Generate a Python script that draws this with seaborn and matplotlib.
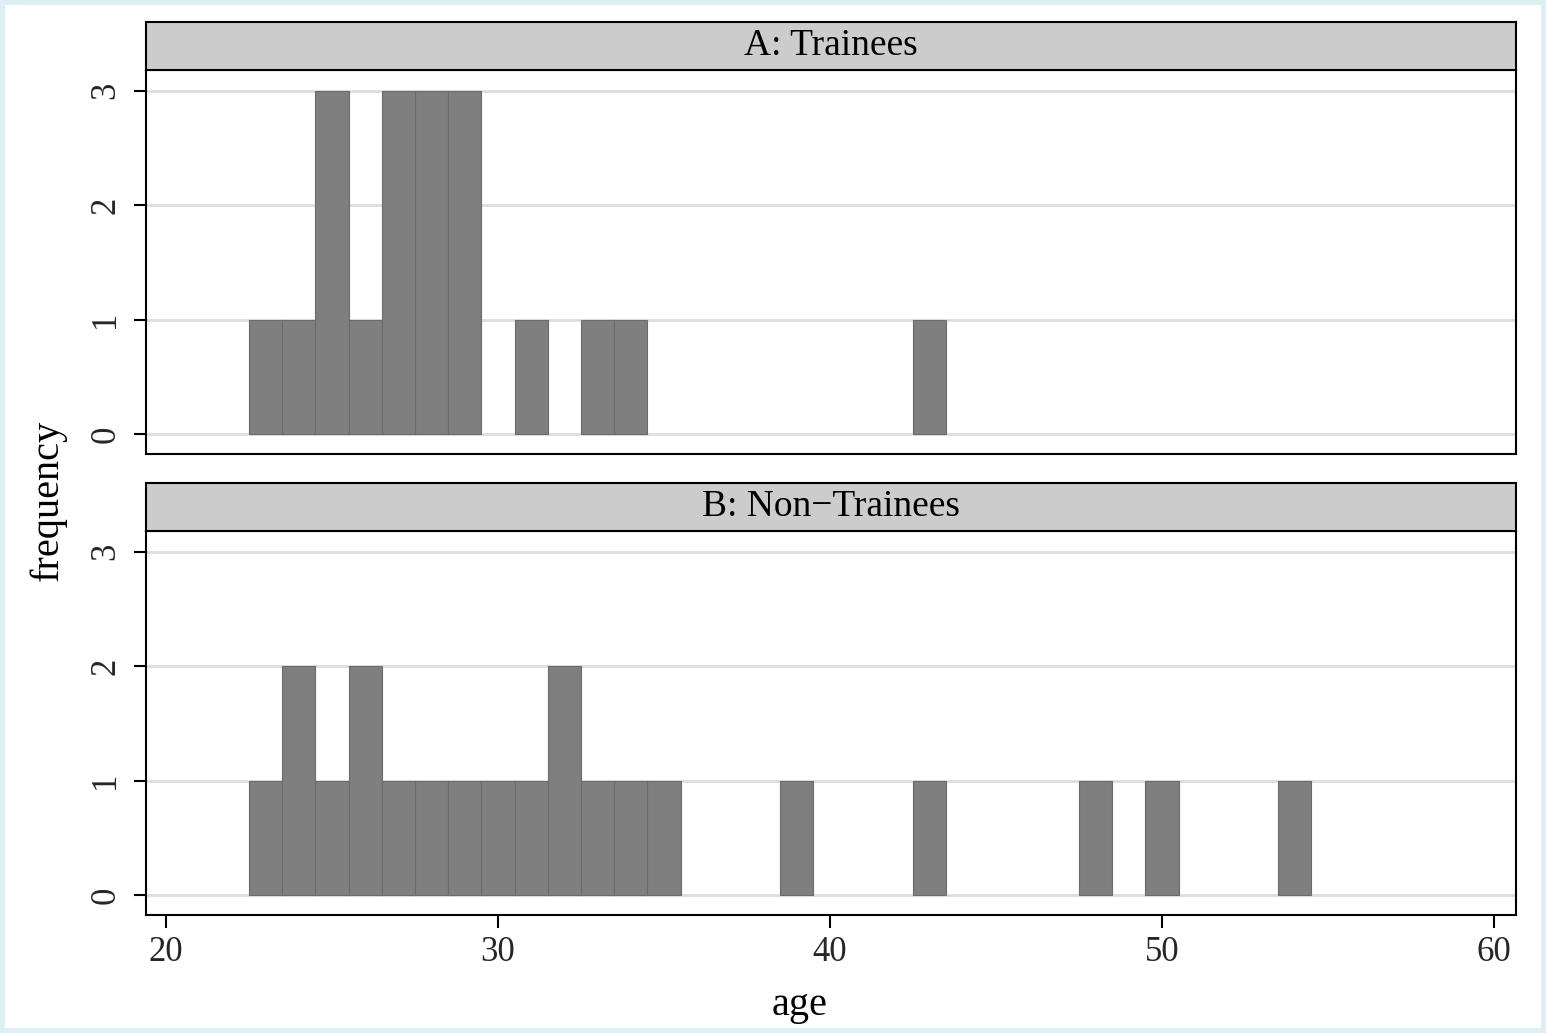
import matplotlib
matplotlib.use("Agg")
import matplotlib.pyplot as plt
import seaborn as sns
import numpy as np
from matplotlib.patches import Rectangle

sns.set_theme(style="white")
plt.rcParams['font.family'] = ['Liberation Serif', 'DejaVu Serif']

# Data (ages, one entry per person)
trainee_ages = [23, 24, 25, 25, 25, 26, 27, 27, 27, 28, 28, 28, 29, 29, 29, 31, 33, 34, 43]
nontrainee_ages = [23, 24, 24, 25, 26, 26, 27, 28, 29, 30, 31, 32, 32, 33, 34, 35, 39, 43, 48, 50, 54]
panel_titles = ["A: Trainees", "B: Non\u2212Trainees"]
x_ticks = [20, 30, 40, 50, 60]
y_ticks = [0, 1, 2, 3]

W, H = 1546, 1033
fig = plt.figure(figsize=(W / 100, H / 100), dpi=100)
fig.patch.set_facecolor('#ddeef4')
fig.patches.append(Rectangle((5 / W, 5 / H), 1 - 10 / W, 1 - 10 / H, transform=fig.transFigure,
                             facecolor='white', edgecolor='none', zorder=-10))

TICK_FS = 25
STRIP_FS = 27
LABEL_FS = 29
left = 146 / W
width = 1370 / W
panels = [
    (trainee_ages, 70, 454, 22),
    (nontrainee_ages, 531, 915, 483),
]

for i, (ages, top, bot, strip_top) in enumerate(panels):
    ax = fig.add_axes([left, 1 - bot / H, width, (bot - top) / H])
    sns.histplot(x=ages, discrete=True, ax=ax, color='#7f7f7f', alpha=1,
                 edgecolor='#6b6b6b', linewidth=0.8, zorder=3)
    for p in ax.patches:
        if p.get_height() == 0:
            p.set_visible(False)
    ax.set_xlim(19.4, 60.66)
    ax.set_ylim(-0.175, 3.18)
    ax.set_yticks(y_ticks)
    ax.set_xticks(x_ticks)
    ax.grid(False)
    for yv in y_ticks:
        ax.axhline(yv, color='#dddddd', lw=2, zorder=1)
    for s in ax.spines.values():
        s.set_color('black')
        s.set_linewidth(1.5)
    ax.tick_params(axis='y', which='major', direction='out', length=9, width=1.5,
                   color='black', left=True, labelsize=TICK_FS, pad=8, labelrotation=90)
    for lab in ax.get_yticklabels():
        lab.set_va('center')
    if i == 1:
        ax.tick_params(axis='x', which='major', direction='out', length=9, width=1.5,
                       color='black', bottom=True, labelsize=TICK_FS, pad=6)
    else:
        ax.tick_params(axis='x', bottom=False, labelbottom=False)
    ax.set_xlabel('')
    ax.set_ylabel('')
    ax.set_facecolor('white')

    # strip
    sax = fig.add_axes([left, 1 - top / H, width, (top - strip_top) / H])
    sax.set_facecolor('#cccccc')
    sax.set_xticks([])
    sax.set_yticks([])
    for s in sax.spines.values():
        s.set_color('black')
        s.set_linewidth(1.5)
    sax.text(0.5, 0.5, panel_titles[i], transform=sax.transAxes, ha='center', va='center',
             fontsize=STRIP_FS, color='black')

fig.text(48 / W, 1 - 500 / H, 'frequency', rotation=90, ha='center', va='center',
         fontsize=LABEL_FS, color='black')
fig.text(800 / W, 1 - 1006 / H, 'age', ha='center', va='center', fontsize=LABEL_FS, color='black')

fig.savefig('out.png', dpi=100, facecolor=fig.get_facecolor())
